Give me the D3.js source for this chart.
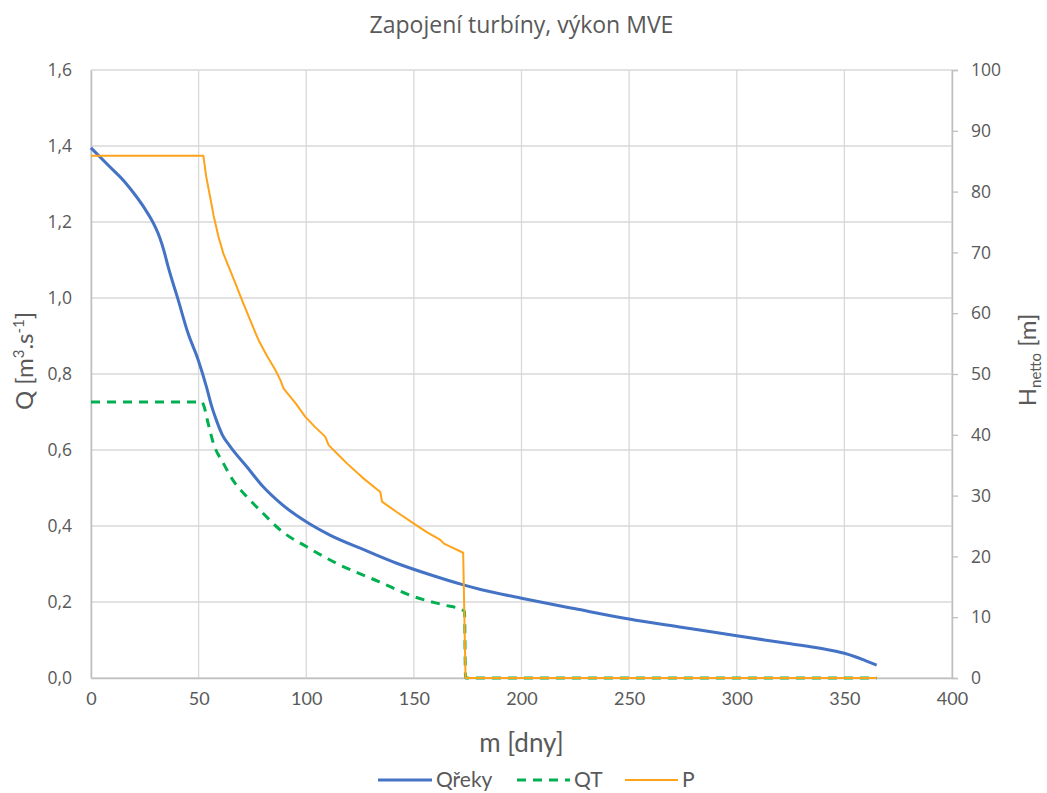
<!DOCTYPE html>
<html>
<head>
<meta charset="utf-8">
<script src="https://cdn.jsdelivr.net/npm/d3@7"></script>
<style>
  body { margin: 0; background: #fff; }
  text { fill: #595959; }
  .grid line { stroke: #d9d9d9; stroke-width: 1.3; }
</style>
</head>
<body>
<script>
var WIDTH = 1047;
var HEIGHT = 793;
var margin = { top: 70, right: 95, bottom: 115, left: 91 };

// Q reky (left axis)
var qrekyDays = [0, 7.9, 15.6, 20, 24.9, 28, 30, 32, 34, 35.8, 40.5, 45.1, 49.8, 53.6, 56, 58.4, 61, 64.7, 72.4, 80, 88, 100, 111, 127, 142, 158, 173, 181, 200, 225, 250, 275, 300, 325, 340, 350, 355, 360, 365];
var qrekyValues = [1.395, 1.35, 1.306, 1.275, 1.236, 1.207, 1.185, 1.158, 1.122, 1.083, 0.995, 0.907, 0.837, 0.767, 0.716, 0.676, 0.640, 0.609, 0.556, 0.503, 0.460, 0.411, 0.376, 0.337, 0.302, 0.271, 0.245, 0.233, 0.210, 0.182, 0.155, 0.133, 0.111, 0.090, 0.077, 0.065, 0.056, 0.045, 0.034];

// QT (left axis)
var qtDays = [0, 51.5, 52.5, 54, 56.9, 61.5, 66, 72.4, 80, 88, 100, 114, 134, 150, 164, 172.5, 173.5, 174, 365];
var qtValues = [0.726, 0.726, 0.715, 0.68, 0.617, 0.565, 0.52, 0.477, 0.433, 0.389, 0.346, 0.302, 0.253, 0.214, 0.192, 0.179, 0.175, 0, 0];

// P (right axis)
var pDays = [0, 52.2, 53.5, 55.3, 57, 59.2, 61.5, 63.9, 67, 70.1, 74, 77.8, 81.7, 85.6, 88, 89.5, 95, 99.5, 104, 108.8, 110.4, 116.6, 118.9, 126, 134.4, 135.2, 142, 150, 156, 162.3, 164, 172.9, 174, 365];
var pValues = [85.9, 85.9, 82.5, 79.2, 76, 72.6, 69.8, 67.7, 65, 62.2, 58.8, 55.6, 53, 50.7, 49.0, 47.6, 45.2, 43.0, 41.3, 39.7, 38.3, 36.1, 35.3, 33, 30.6, 29.0, 27.3, 25.4, 24, 22.7, 22.1, 20.6, 0, 0];

var xTicks = d3.range(0, 401, 50);
var yLeftTicks = d3.range(0, 1.61, 0.2);
var yRightTicks = d3.range(0, 101, 10);

var series = [
  { name: 'Qřeky', days: qrekyDays, values: qrekyValues, axis: 'left', color: '#4472C4', width: 3, dash: null, curve: d3.curveMonotoneX },
  { name: 'QT', days: qtDays, values: qtValues, axis: 'left', color: '#00B050', width: 3, dash: '9,7', curve: d3.curveMonotoneX },
  { name: 'P', days: pDays, values: pValues, axis: 'right', color: '#FFA31A', width: 2, dash: null, curve: d3.curveLinear }
];

var innerW = WIDTH - margin.left - margin.right;
var innerH = HEIGHT - margin.top - margin.bottom;

var x = d3.scaleLinear().domain([0, 400]).range([0, innerW]);
var yLeft = d3.scaleLinear().domain([0, 1.6]).range([innerH, 0]);
var yRight = d3.scaleLinear().domain([0, 100]).range([innerH, 0]);

var svg = d3.select('body').append('svg')
  .attr('width', WIDTH)
  .attr('height', HEIGHT);

svg.append('text')
  .attr('x', margin.left + innerW / 2)
  .attr('y', 33)
  .attr('text-anchor', 'middle')
  .style('font-family', '"Open Sans", sans-serif')
  .style('font-size', '23px')
  .text('Zapojení turbíny, výkon MVE');

var g = svg.append('g')
  .attr('transform', 'translate(' + margin.left + ',' + margin.top + ')');

// gridlines
g.append('g').attr('class', 'grid')
  .selectAll('line.h').data(yLeftTicks).enter().append('line')
  .attr('x1', 0).attr('x2', innerW)
  .attr('y1', function (d) { return yLeft(d); })
  .attr('y2', function (d) { return yLeft(d); });

g.append('g').attr('class', 'grid')
  .selectAll('line.v').data(xTicks).enter().append('line')
  .attr('y1', 0).attr('y2', innerH)
  .attr('x1', function (d) { return x(d); })
  .attr('x2', function (d) { return x(d); });

// axes
var xAxis = g.append('g')
  .attr('transform', 'translate(0,' + innerH + ')')
  .call(d3.axisBottom(x).tickValues(xTicks).tickSize(0).tickPadding(14));

var leftAxis = g.append('g')
  .call(d3.axisLeft(yLeft).tickValues(yLeftTicks).tickSize(0).tickPadding(19)
    .tickFormat(function (d) { return d3.format('.1f')(d).replace('.', ','); }));

var rightAxis = g.append('g')
  .attr('transform', 'translate(' + innerW + ',0)')
  .call(d3.axisRight(yRight).tickValues(yRightTicks).tickSize(6).tickPadding(13));

[xAxis, leftAxis, rightAxis].forEach(function (ax) {
  ax.select('.domain').attr('stroke', '#bfbfbf').attr('stroke-width', 1.5);
  ax.selectAll('.tick line').attr('stroke', '#bfbfbf').attr('stroke-width', 1.3);
  ax.selectAll('text').attr('fill', '#595959');
});
xAxis.selectAll('text').style('font-family', 'Lato, sans-serif').style('font-size', '18px');
leftAxis.selectAll('text').style('font-family', '"Open Sans", sans-serif').style('font-size', '17.5px');
rightAxis.selectAll('text').style('font-family', '"Open Sans", sans-serif').style('font-size', '17.5px');

// series
series.forEach(function (s) {
  var yScale = s.axis === 'left' ? yLeft : yRight;
  var line = d3.line()
    .curve(s.curve)
    .x(function (d, i) { return x(s.days[i]); })
    .y(function (d) { return yScale(d); });
  g.append('path')
    .datum(s.values)
    .attr('fill', 'none')
    .attr('stroke', s.color)
    .attr('stroke-width', s.width)
    .attr('stroke-linejoin', 'round')
    .attr('stroke-dasharray', s.dash)
    .attr('d', line);
});

// axis titles
svg.append('text')
  .attr('x', margin.left + innerW / 2)
  .attr('y', 752)
  .attr('text-anchor', 'middle')
  .style('font-family', 'Lato, sans-serif')
  .style('font-size', '26px')
  .text('m [dny]');

var qTitle = svg.append('text')
  .attr('transform', 'translate(33,361) rotate(-90)')
  .attr('text-anchor', 'middle')
  .style('font-family', 'Lato, sans-serif')
  .style('font-size', '24px');
qTitle.append('tspan').text('Q [m');
qTitle.append('tspan').attr('dy', -9).style('font-size', '15px').text('3');
qTitle.append('tspan').attr('dy', 9).text('.s');
qTitle.append('tspan').attr('dy', -9).style('font-size', '15px').text('-1');
qTitle.append('tspan').attr('dy', 9).text(']');

var hTitle = svg.append('text')
  .attr('transform', 'translate(1036,360) rotate(-90)')
  .attr('text-anchor', 'middle')
  .style('font-family', 'Lato, sans-serif')
  .style('font-size', '24px');
hTitle.append('tspan').text('H');
hTitle.append('tspan').attr('dy', 5).style('font-size', '15px').text('netto');
hTitle.append('tspan').attr('dy', -5).text(' [m]');

// legend
var legendItems = [
  { x: 378, w: 54 },
  { x: 517, w: 53 },
  { x: 625, w: 53 }
];
var legend = svg.append('g').attr('transform', 'translate(0,780)');
series.forEach(function (s, i) {
  var it = legend.append('g').attr('transform', 'translate(' + legendItems[i].x + ',0)');
  it.append('line')
    .attr('x1', 0).attr('x2', legendItems[i].w)
    .attr('y1', 0).attr('y2', 0)
    .attr('stroke', s.color)
    .attr('stroke-width', s.width)
    .attr('stroke-dasharray', s.dash);
  it.append('text')
    .attr('x', legendItems[i].w + 4)
    .attr('y', 7)
    .style('font-family', 'Lato, sans-serif')
    .style('font-size', '21px')
    .text(s.name);
});
</script>
</body>
</html>
